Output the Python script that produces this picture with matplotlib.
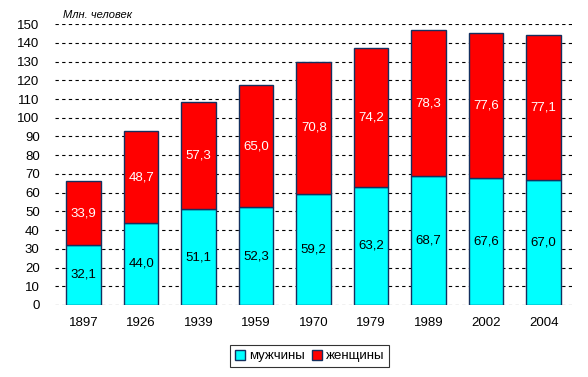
import numpy as np
import matplotlib.pyplot as plt
from matplotlib.patches import Patch

plt.rcParams['font.family'] = ['Liberation Sans', 'DejaVu Sans']

years = ['1897', '1926', '1939', '1959', '1970', '1979', '1989', '2002', '2004']
men = [32.1, 44.0, 51.1, 52.3, 59.2, 63.2, 68.7, 67.6, 67.0]
women = [33.9, 48.7, 57.3, 65.0, 70.8, 74.2, 78.3, 77.6, 77.1]
yticks = list(range(0, 151, 10))

def fmt(v):
    return ('%.1f' % v).replace('.', ',')

fig = plt.figure(figsize=(5.88, 3.77), dpi=100)
ax = fig.add_axes([0.0935, 0.191, 0.880, 0.745])

x = np.arange(len(years))
men_bars = ax.bar(x, men, width=0.6, color='#00ffff', edgecolor='#14305f',
                  linewidth=1.0, zorder=3)
women_bars = ax.bar(x, women, width=0.6, bottom=men, color='#ff0000',
                    edgecolor='#14305f', linewidth=1.0, zorder=3)

# value labels in the middle of each segment
for i in range(len(years)):
    ax.text(x[i], men[i] / 2, fmt(men[i]), ha='center', va='center',
            fontsize=9.5, color='black', zorder=4)
    ax.text(x[i], men[i] + women[i] / 2, fmt(women[i]), ha='center',
            va='center', fontsize=9.5, color='white', zorder=4)

ax.set_xlim(-0.5, len(years) - 0.5)
ax.set_ylim(0, 150)
ax.set_yticks(yticks)
ax.set_xticks(x)
ax.set_xticklabels(years)
ax.tick_params(axis='both', length=0, labelsize=9.5)
ax.tick_params(axis='y', pad=11)
ax.tick_params(axis='x', pad=9)
ax.yaxis.grid(True, color='black', linestyle=(0, (3, 3)), linewidth=0.8,
              zorder=0)
ax.set_axisbelow(True)
for s in ax.spines.values():
    s.set_visible(False)

fig.text(0.107, 0.96, 'Млн. человек', fontsize=8, style='italic',
         ha='left', va='center')

handles = [Patch(facecolor='#00ffff', edgecolor='#14305f', label='мужчины'),
           Patch(facecolor='#ff0000', edgecolor='#14305f', label='женщины')]
leg = fig.legend(handles=handles, loc='center', bbox_to_anchor=(0.527, 0.056),
                 ncol=2, fontsize=9.5, frameon=True, fancybox=False,
                 edgecolor='black', handlelength=0.8, handleheight=0.8,
                 handletextpad=0.3, columnspacing=0.5, borderpad=0.35)
leg.get_frame().set_linewidth(0.8)

fig.savefig('out.png', dpi=100)
